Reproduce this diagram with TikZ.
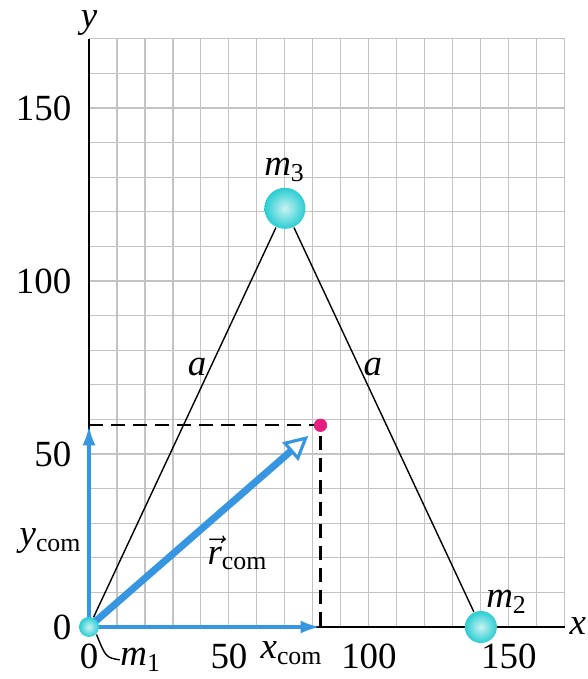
\documentclass[tikz,border=0pt]{standalone}
\usepackage{fontspec}
\setmainfont{Liberation Serif}
\usepackage{tikz}
\usetikzlibrary{arrows.meta}
\definecolor{ballc}{RGB}{40,205,210}
\definecolor{vecblue}{RGB}{55,150,225}
\definecolor{comdot}{RGB}{230,30,130}
\definecolor{gridc}{RGB}{195,195,195}
\newcommand{\comsub}{\textsubscript{com}}

\begin{document}
\begin{tikzpicture}[x=0.028cm,y=0.0346cm,font=\fontsize{10.5}{12}\selectfont,
  gridline/.style={gridc,line width=0.3pt},
  axis/.style={black,line width=0.8pt},
  ball/.style={circle,inner sep=0pt,shading=radial,inner color=ballc!25!white,outer color=ballc},
  lab/.style={inner sep=0pt},
  compo/.style={vecblue,line width=1.1pt,-{Latex[length=0.2cm,width=0.13cm]}},
  rvec/.style={vecblue,line width=2pt,shorten >=0.09cm,
    -{Triangle[fill=white,length=0.24cm,width=0.24cm,line width=0.9pt]}},
  guide/.style={black,line width=0.6pt,dash pattern=on 0.14cm off 0.08cm}]
  \useasboundingbox (-31.79,-15.03) rectangle (178.21,181.21);
  % grid
  \foreach \v in {10,20,...,170}{
    \draw[gridline] (\v,0) -- (\v,170);
    \draw[gridline] (0,\v) -- (170,\v);}
  % axes
  \coordinate (O) at (0,0);
  \coordinate (xend) at (170,0);
  \coordinate (yend) at (0,170);
  \draw[axis] (O) -- (xend);
  \draw[axis] (O) -- (yend);
  \node[lab] (xlab) at (174.6,0.3) {\textit{x}};
  \node[lab] (ylab) at (0,174.5) {\textit{y}};
  \foreach \v in {0,50,100,150}{
    \node[lab,anchor=east] (ty\v) at (-6.1,\v) {\v};
    \node[lab] (tx\v) at (\v,-8.4) {\v};}
  % center of mass and its components
  \coordinate (xcom) at (82.7,0);
  \coordinate (ycom) at (0,58.3);
  \node[circle,fill=comdot,inner sep=0pt,minimum size=0.13cm] (com) at (82.7,58.3) {};
  \draw[guide] (ycom) -- (com.center) -- (xcom);
  \draw[compo] (O) -- (xcom);
  \draw[compo] (O) -- (ycom);
  \draw[rvec] (O) -- (com);
  \node[circle,fill=comdot,inner sep=0pt,minimum size=0.13cm] (comtop) at (com) {};
  % the three particles
  \node[ball,minimum size=0.2cm] (m1) at (0,0) {};
  \node[ball,minimum size=0.32cm] (m2) at (140,0) {};
  \node[ball,minimum size=0.41cm] (m3) at (70,121) {};
  \draw[black,line width=0.4pt] (m1) -- (m3) -- (m2);
  % labels
  \node[lab] (m3lab) at (70,132) {\textit{m}\textsubscript{3}};
  \node[lab] (m2lab) at (149.3,7.2) {\textit{m}\textsubscript{2}};
  \node[lab] (m1lab) at (18.6,-9.5) {\textit{m}\textsubscript{1}};
  \draw[black,line width=0.4pt] (m1.south east) .. controls (6,-8.8) .. (m1lab.west);
  \node[lab] (aL) at (38.6,75.1) {\textit{a}};
  \node[lab] (aR) at (101.4,75.1) {\textit{a}};
  \node[lab] (rlab) at (53.2,21.4) {$\vec{\textit{r}}$\comsub};
  \node[lab] (ylab2) at (-13.6,24.9) {\textit{y}\comsub};
  \node[lab] (xlab2) at (72.5,-7.5) {\textit{x}\comsub};
\end{tikzpicture}
\end{document}
